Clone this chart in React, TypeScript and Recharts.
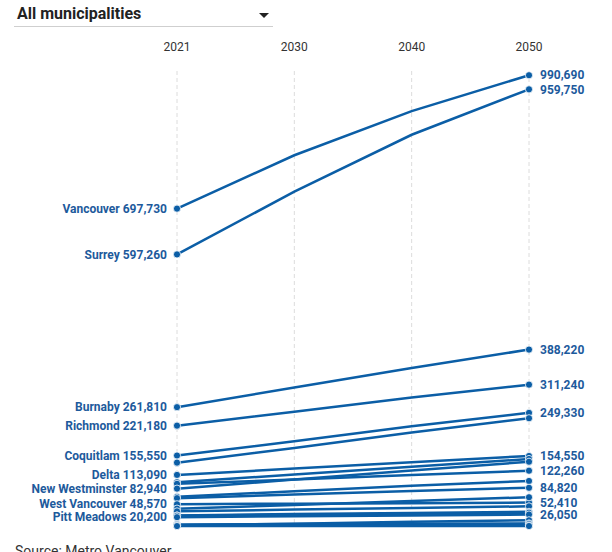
import React from 'react';
import { LineChart, Line, XAxis, YAxis, CartesianGrid, LabelList } from 'recharts';

const years = ['2021', '2030', '2040', '2050'];

const municipalities = [
  'Vancouver', 'Surrey', 'Burnaby', 'Richmond', 'Coquitlam', 'Langley Township', 'Delta',
  'Maple Ridge', 'North Vancouver District', 'New Westminster', 'Port Coquitlam',
  'North Vancouver City', 'West Vancouver', 'Port Moody', 'Langley City', 'Electoral Area A',
  'White Rock', 'Pitt Meadows', 'Tsawwassen First Nation', 'Bowen Island', 'Anmore',
  'Lions Bay', 'Belcarra',
];

const vancouver = [697730, 815000, 912000, 990690];
const surrey = [597260, 735000, 860000, 959750];
const burnaby = [261810, 305000, 348000, 388220];
const richmond = [221180, 252000, 283000, 311240];
const coquitlam = [155550, 187000, 220000, 249330];
const langleyTownship = [140000, 172000, 206000, 237500];
const delta = [113090, 127000, 141000, 154550];
const mapleRidge = [97000, 114000, 131000, 148000];
const northVancouverDistrict = [93500, 103000, 113000, 122260];
const newWestminster = [82940, 103000, 123000, 142000];
const portCoquitlam = [65000, 77000, 89000, 99700];
const northVancouverCity = [62000, 70000, 78000, 84820];
const westVancouver = [48570, 50000, 51000, 52410];
const portMoody = [39000, 47000, 56000, 64000];
const langleyCity = [33000, 37000, 40500, 44000];
const electoralAreaA = [24000, 27000, 29500, 32000];
const whiteRock = [23500, 25500, 28000, 30000];
const pittMeadows = [20200, 22500, 24000, 26050];
const tsawwassen = [2500, 6000, 10000, 13400];
const bowenIsland = [4400, 5100, 5800, 6500];
const anmore = [2400, 3300, 4200, 5000];
const lionsBay = [1400, 1500, 1700, 1800];
const belcarra = [700, 750, 780, 800];

const seriesValues = [
  vancouver, surrey, burnaby, richmond, coquitlam, langleyTownship, delta, mapleRidge,
  northVancouverDistrict, newWestminster, portCoquitlam, northVancouverCity, westVancouver,
  portMoody, langleyCity, electoralAreaA, whiteRock, pittMeadows, tsawwassen, bowenIsland,
  anmore, lionsBay, belcarra,
];

const leftLabelled = ['Vancouver', 'Surrey', 'Burnaby', 'Richmond', 'Coquitlam', 'Delta', 'New Westminster', 'West Vancouver', 'Pitt Meadows'];
const rightLabelled = ['Vancouver', 'Surrey', 'Burnaby', 'Richmond', 'Coquitlam', 'Delta', 'North Vancouver District', 'North Vancouver City', 'West Vancouver', 'Pitt Meadows'];

const data = years.map((year, i) => {
  const row: Record<string, string | number> = { year };
  seriesValues.forEach((vals, s) => {
    row['s' + s] = vals[i];
  });
  return row;
});

const BLUE = '#0b5ea6';
const LABEL = '#1d5a9c';
const fmt = (v: number) => v.toLocaleString('en-US');

const makeLabel = (name: string) => (props: any) => {
  const { x, y, index, value } = props;
  const last = years.length - 1;
  if (index === 0 && leftLabelled.includes(name)) {
    return (
      <text x={x - 10} y={y} dy={4.2} textAnchor="end" fontFamily="Roboto" fontWeight={700} fontSize={12} fill={LABEL}>
        {name} {fmt(Number(value))}
      </text>
    );
  }
  if (index === last && rightLabelled.includes(name)) {
    return (
      <text x={x + 11} y={y} dy={4.2} textAnchor="start" fontFamily="Roboto" fontWeight={700} fontSize={12} fill={LABEL}>
        {fmt(Number(value))}
      </text>
    );
  }
  return null;
};

const EndDot = (props: any) => {
  const { cx, cy, index } = props;
  if (index !== 0 && index !== years.length - 1) return <g key={'d' + index} />;
  return <circle key={'d' + index} cx={cx} cy={cy} r={3.6} fill={BLUE} stroke="#fff" strokeWidth={0.8} />;
};

const YearTick = (props: any) => {
  const { x, y, payload } = props;
  return (
    <text x={x} y={y} dy={-12} textAnchor="middle" fontFamily="Roboto" fontSize={12} fill="#333">
      {payload.value}
    </text>
  );
};

export default function App() {
  return (
    <div style={{ position: 'absolute', left: 0, top: 0, width: 612, height: 552, overflow: 'hidden', background: '#fff', fontFamily: 'Roboto' }}>
      <div style={{ position: 'absolute', left: 14, top: 0, width: 259, height: 26, borderBottom: '1px solid #cfcfcf' }}>
        <div style={{ position: 'absolute', left: 3, top: 4, fontSize: 16, fontWeight: 700, color: '#222', lineHeight: '20px' }}>
          All municipalities
        </div>
        <div style={{ position: 'absolute', left: 245, top: 13, width: 0, height: 0, borderLeft: '5px solid transparent', borderRight: '5px solid transparent', borderTop: '5px solid #222' }} />
      </div>
      <LineChart width={612} height={552} data={data} margin={{ top: 41, right: 83, left: 177, bottom: 25.6 }}>
        <CartesianGrid vertical horizontal={false} stroke="#dcdcdc" strokeDasharray="4 3" />
        <XAxis dataKey="year" orientation="top" height={30} axisLine={false} tickLine={false} tick={<YearTick />} padding={{ left: 0, right: 0 }} interval={0} />
        <YAxis hide domain={[0, 1000000]} />
        {municipalities.map((name, s) => (
          <Line
            key={name}
            dataKey={'s' + s}
            name={name}
            stroke={BLUE}
            strokeWidth={2.5}
            dot={<EndDot />}
            activeDot={false}
            isAnimationActive={false}
          >
            <LabelList dataKey={'s' + s} content={makeLabel(name)} />
          </Line>
        ))}
      </LineChart>
      <div style={{ position: 'absolute', left: 15, top: 542, fontSize: 14, color: '#333', lineHeight: '18px' }}>
        Source: Metro Vancouver
      </div>
    </div>
  );
}
